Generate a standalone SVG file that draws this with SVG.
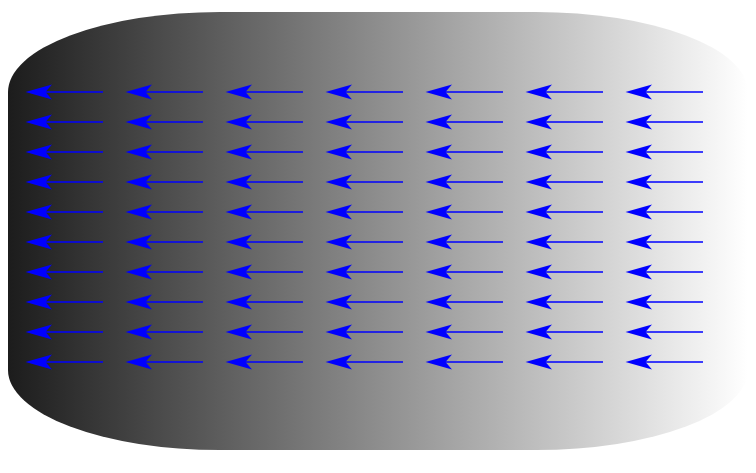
<svg xmlns="http://www.w3.org/2000/svg" xmlns:xlink="http://www.w3.org/1999/xlink" width="756" height="473" viewBox="0 0 756 473">
<defs>
<linearGradient id="bg" x1="8" y1="0" x2="748" y2="0" gradientUnits="userSpaceOnUse">
<stop offset="0" stop-color="#1c1c1c"/>
<stop offset="1" stop-color="#ffffff"/>
</linearGradient>
<g id="arr">
<line x1="30" y1="0" x2="103" y2="0" stroke="#0000ff" stroke-width="1.5"/>
<path d="M25.5,0 L52,-7.5 L45.5,0 L52,7.5 Z" fill="#0000ff"/>
</g>
<g id="col">
<use xlink:href="#arr" y="92"/>
<use xlink:href="#arr" y="122"/>
<use xlink:href="#arr" y="152"/>
<use xlink:href="#arr" y="182"/>
<use xlink:href="#arr" y="212"/>
<use xlink:href="#arr" y="242"/>
<use xlink:href="#arr" y="272"/>
<use xlink:href="#arr" y="302"/>
<use xlink:href="#arr" y="332"/>
<use xlink:href="#arr" y="362"/>
</g>
</defs>
<rect id="field" x="8" y="12" width="740" height="438" rx="212" ry="80" fill="url(#bg)"/>
<g id="arrows">
<use xlink:href="#col" x="0"/>
<use xlink:href="#col" x="100"/>
<use xlink:href="#col" x="200"/>
<use xlink:href="#col" x="300"/>
<use xlink:href="#col" x="400"/>
<use xlink:href="#col" x="500"/>
<use xlink:href="#col" x="600"/>
</g>
</svg>
